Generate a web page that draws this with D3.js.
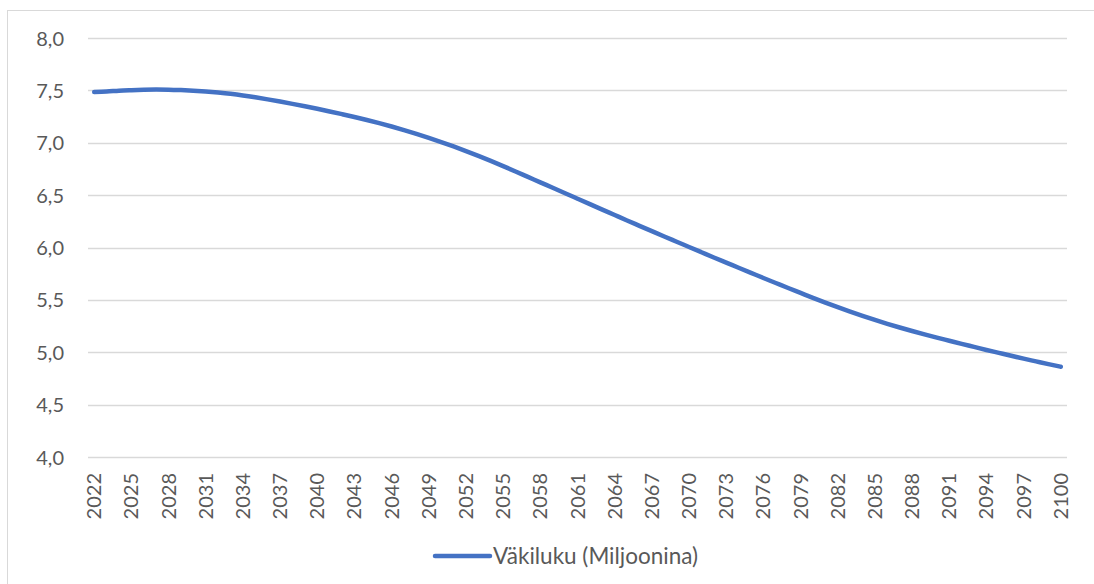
<!DOCTYPE html>
<html>
<head>
<meta charset="utf-8">
<script src="https://cdn.jsdelivr.net/npm/d3@7"></script>
<style>
  html, body { margin: 0; padding: 0; background: #ffffff; }
  svg { display: block; }
  text { font-family: Lato, "Open Sans", "Noto Sans", sans-serif; fill: #595959; }
</style>
</head>
<body>
<div id="chart"></div>
<script>
const years = d3.range(2022, 2101);
const population = [
  7.485, 7.489, 7.497, 7.502, 7.506, 7.508, 7.507, 7.503, 7.497, 7.489,
  7.479, 7.467, 7.452, 7.434, 7.414, 7.393, 7.371, 7.348, 7.324, 7.299,
  7.273, 7.246, 7.217, 7.187, 7.155, 7.121, 7.085, 7.047, 7.007, 6.965,
  6.921, 6.875, 6.827, 6.777, 6.726, 6.674, 6.622, 6.570, 6.518, 6.466,
  6.414, 6.362, 6.310, 6.258, 6.207, 6.156, 6.105, 6.055, 6.005, 5.955,
  5.905, 5.856, 5.807, 5.758, 5.709, 5.661, 5.613, 5.566, 5.519, 5.474,
  5.430, 5.388, 5.347, 5.308, 5.271, 5.236, 5.203, 5.171, 5.140, 5.110,
  5.080, 5.051, 5.022, 4.994, 4.966, 4.939, 4.913, 4.887, 4.862
];
const yTicks = [4.0, 4.5, 5.0, 5.5, 6.0, 6.5, 7.0, 7.5, 8.0];
const xTickLabels = d3.range(2022, 2101, 3);
const seriesName = "Väkiluku (Miljoonina)";

const W = 1094, H = 584;
const plot = { left: 88, right: 1067, top: 38, bottom: 457 };

const svg = d3.select("#chart").append("svg").attr("width", W).attr("height", H);

// outer chart border
svg.append("rect")
  .attr("x", 7.5).attr("y", 10.5)
  .attr("width", W + 10).attr("height", H + 10)
  .attr("fill", "#fff").attr("stroke", "#d9d9d9").attr("stroke-width", 1);

const x = d3.scaleBand().domain(years).range([plot.left, plot.right]).paddingInner(0).paddingOuter(0);
const y = d3.scaleLinear().domain([4, 8]).range([plot.bottom, plot.top]);

// gridlines
svg.append("g").selectAll("line").data(yTicks).join("line")
  .attr("x1", plot.left).attr("x2", plot.right)
  .attr("y1", d => Math.round(y(d)) + 0.5).attr("y2", d => Math.round(y(d)) + 0.5)
  .attr("stroke", "#d9d9d9").attr("stroke-width", 1.3);

// y axis labels
const yAxis = d3.axisLeft(y).tickValues(yTicks).tickSize(0).tickPadding(0)
  .tickFormat(d => d3.format(".1f")(d).replace(".", ","));
const gy = svg.append("g").attr("transform", `translate(${64},0)`).call(yAxis);
gy.select(".domain").remove();
gy.selectAll("text").attr("font-size", 20).attr("fill", "#595959")
  .style("font-family", "Lato, 'Open Sans', sans-serif").attr("dy", "0.35em");

// x axis labels
const xAxis = d3.axisBottom(x).tickValues(xTickLabels).tickSize(0).tickFormat(d => String(d));
const gx = svg.append("g").attr("transform", `translate(0,${plot.bottom})`).call(xAxis);
gx.select(".domain").remove();
gx.selectAll("text")
  .attr("font-size", 20).attr("fill", "#595959")
  .style("font-family", "Lato, 'Open Sans', sans-serif")
  .attr("text-anchor", "end")
  .attr("transform", "rotate(-90)")
  .attr("x", -16).attr("y", 0).attr("dy", "0.35em");

// line
const line = d3.line()
  .x((d, i) => x(years[i]) + x.bandwidth() / 2)
  .y(d => y(d))
  .curve(d3.curveMonotoneX);

svg.append("path").datum(population)
  .attr("d", line)
  .attr("fill", "none")
  .attr("stroke", "#4472C4")
  .attr("stroke-width", 4.5)
  .attr("stroke-linecap", "round")
  .attr("stroke-linejoin", "round");

// legend
const lg = svg.append("g").attr("transform", "translate(435,556)");
lg.append("line").attr("x1", 0).attr("x2", 55).attr("y1", 0).attr("y2", 0)
  .attr("stroke", "#4472C4").attr("stroke-width", 4.5).attr("stroke-linecap", "round");
lg.append("text").attr("x", 58).attr("y", 0).attr("dy", "0.35em")
  .attr("font-size", 22.5).attr("fill", "#595959").text(seriesName);
</script>
</body>
</html>
